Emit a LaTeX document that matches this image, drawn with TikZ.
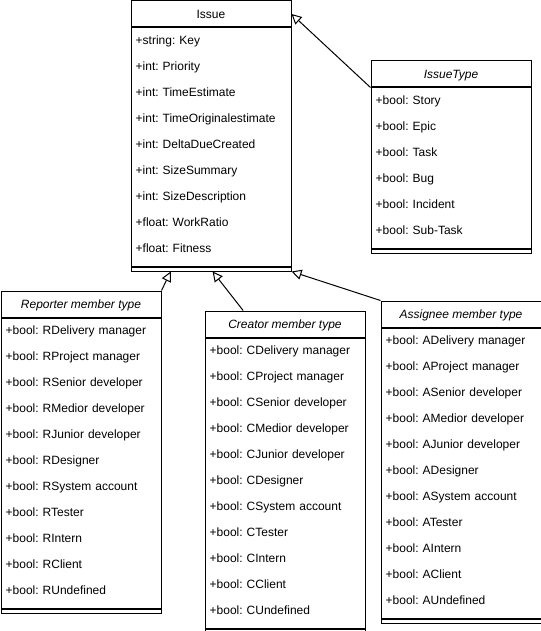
\documentclass[tikz,border=0pt]{standalone}
\usepackage{fontspec}
\setmainfont{Liberation Sans}
\usetikzlibrary{arrows.meta,positioning}
\usetikzlibrary{calc}

\frenchspacing
\newcommand{\rowstrut}{\rule[-8.8pt]{0pt}{19.5pt}}

\begin{document}
\begin{tikzpicture}[
    x=0.75pt,
    y=-0.75pt,
    line width=0.75pt,
    head/.style={
        draw,
        anchor=north west,
        minimum width=120pt,
        minimum height=19.5pt,
        inner sep=0pt,
        text height=8.5pt,
        text depth=1.2pt,
        font=\fontsize{9}{11}\selectfont
    },
    body/.style={
        draw,
        below=0pt of #1,
        text width=113pt,
        inner xsep=3.5pt,
        inner ysep=1.5pt,
        align=left,
        font=\fontsize{9}{19.5}\selectfont,
        execute at begin node=\rowstrut,
        execute at end node=\rowstrut
    },
    foot/.style={
        draw,
        below=0pt of #1,
        minimum width=120pt,
        minimum height=3pt,
        inner sep=0pt
    },
    gen/.style={
        -{Triangle[open,length=7.5pt,width=7.5pt,fill=white]}
    }
]

\useasboundingbox (0,0) rectangle (541,631);

% Issue
\node[head] (issue) at (130.5,0.5) {Issue};
\node[body=issue] (issuebody) {+string: Key\\+int: Priority\\+int: TimeEstimate\\+int: TimeOriginalestimate\\+int: DeltaDueCreated\\+int: SizeSummary\\+int: SizeDescription\\+float: WorkRatio\\+float: Fitness};
\node[foot=issuebody] (issuefoot) {};

% IssueType
\node[head] (type) at (370.5,60.5) {\itshape IssueType};
\node[body=type] (typebody) {+bool: Story\\+bool: Epic\\+bool: Task\\+bool: Bug\\+bool: Incident\\+bool: Sub-Task};
\node[foot=typebody] (typefoot) {};

% Reporter
\node[head] (rep) at (0.5,290.5) {\itshape Reporter member type};
\node[body=rep] (repbody) {+bool: RDelivery manager\\+bool: RProject manager\\+bool: RSenior developer\\+bool: RMedior developer\\+bool: RJunior developer\\+bool: RDesigner\\+bool: RSystem account\\+bool: RTester\\+bool: RIntern\\+bool: RClient\\+bool: RUndefined};
\node[foot=repbody] (repfoot) {};

% Creator
\node[head] (cre) at (204.5,310.5) {\itshape Creator member type};
\node[body=cre] (crebody) {+bool: CDelivery manager\\+bool: CProject manager\\+bool: CSenior developer\\+bool: CMedior developer\\+bool: CJunior developer\\+bool: CDesigner\\+bool: CSystem account\\+bool: CTester\\+bool: CIntern\\+bool: CClient\\+bool: CUndefined};
\node[foot=crebody] (crefoot) {};

% Assignee
\node[head] (asg) at (380.5,300.5) {\itshape Assignee member type};
\node[body=asg] (asgbody) {+bool: ADelivery manager\\+bool: AProject manager\\+bool: ASenior developer\\+bool: AMedior developer\\+bool: AJunior developer\\+bool: ADesigner\\+bool: ASystem account\\+bool: ATester\\+bool: AIntern\\+bool: AClient\\+bool: AUndefined};
\node[foot=asgbody] (asgfoot) {};

% Generalisations
\draw[gen] (type.south west) -- (issue.east);
\draw[gen] (rep.north east) -- ($(issuefoot.south west)!0.25!(issuefoot.south east)$);
\draw[gen] ($(cre.north west)!0.24!(cre.north east)$) -- ($(issuefoot.south west)!0.51!(issuefoot.south east)$);
\draw[gen] (asg.north west) -- (issuefoot.south east);

\end{tikzpicture}
\end{document}
